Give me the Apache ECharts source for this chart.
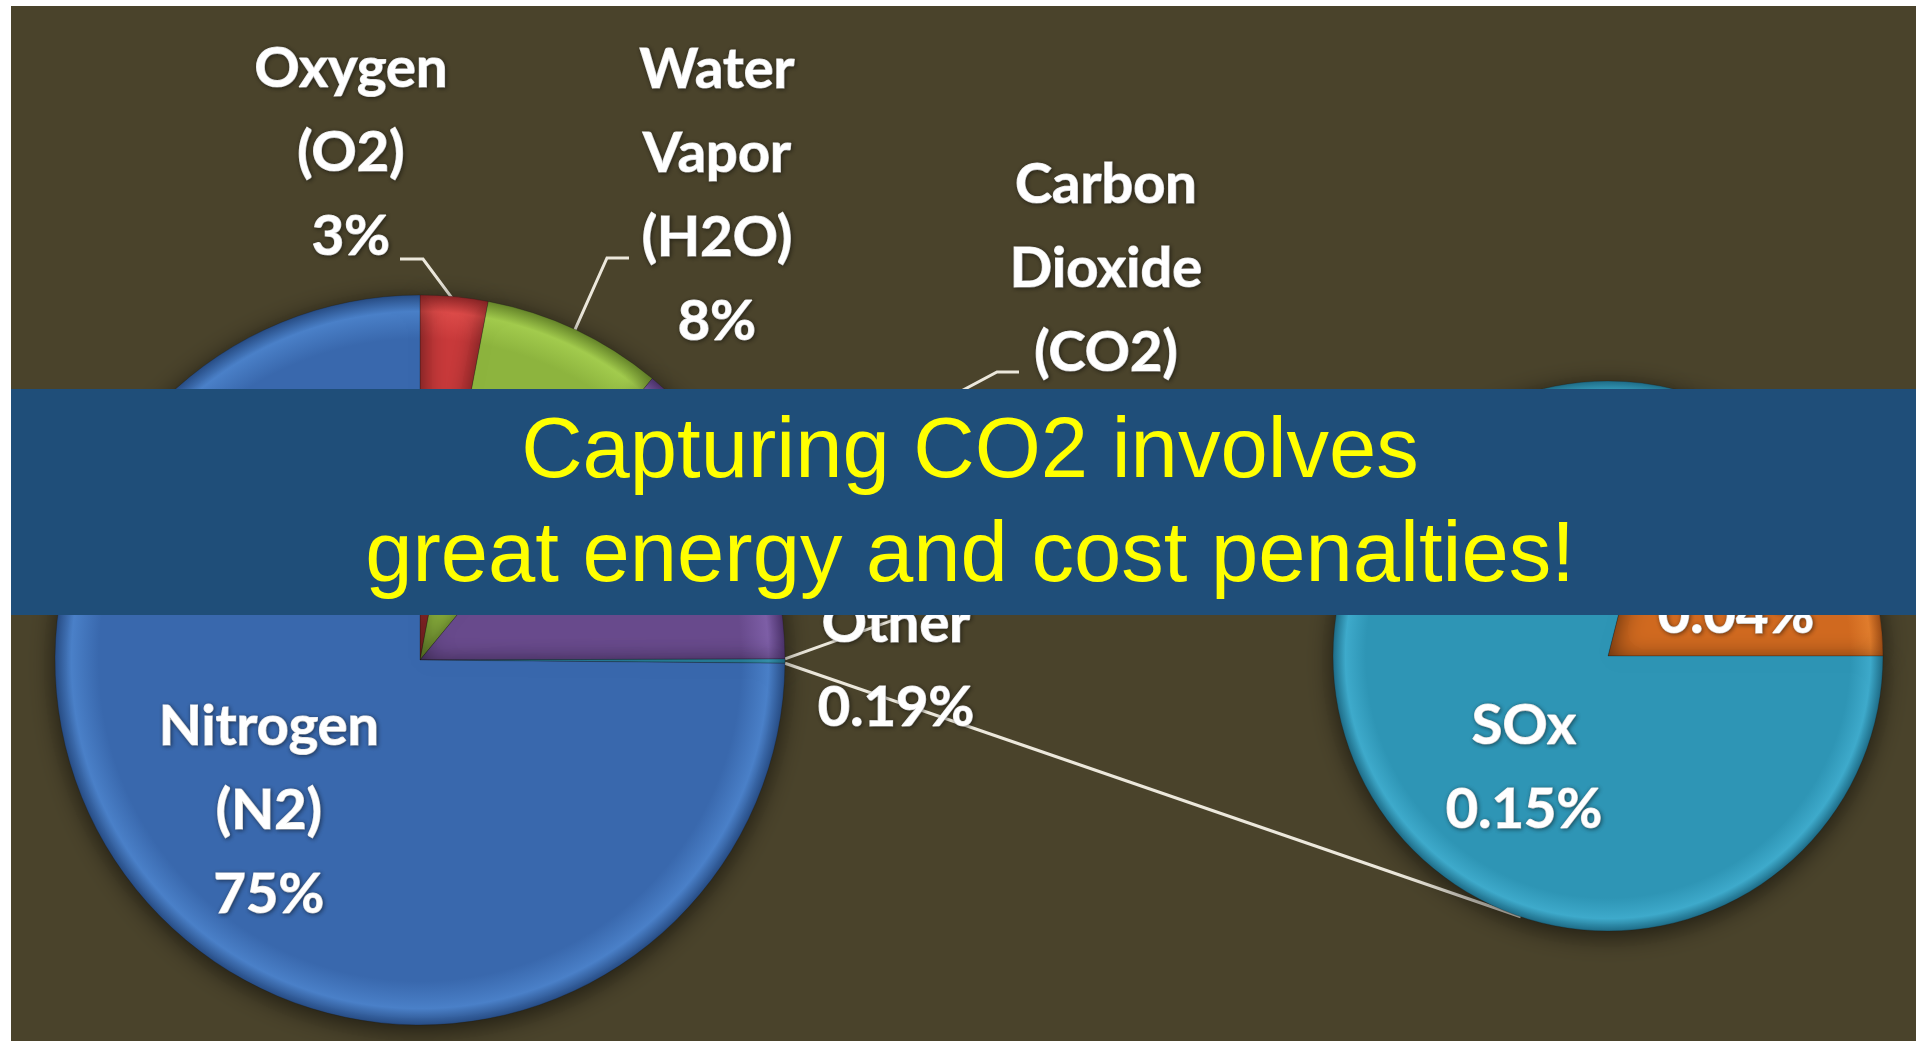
<!DOCTYPE html>
<html>
<head>
<meta charset="utf-8">
<title>Flue gas composition</title>
<script src="https://cdn.jsdelivr.net/npm/echarts@6/dist/echarts.min.js"></script>
<style>
  html, body { margin: 0; padding: 0; background: #ffffff; }
  #chart { width: 1916px; height: 1041px; }
</style>
</head>
<body>
<div id="chart"></div>
<script>
// Main pie: flue gas components (percent), drawn clockwise from 12 o'clock
const mainNames  = ['Oxygen\n(O2)', 'Water\nVapor\n(H2O)', 'Carbon\nDioxide\n(CO2)', 'Other', 'Nitrogen\n(N2)'];
const mainValues = [3, 8, 14, 0.19, 75];

// Secondary pie: break-down of "Other" (percent of total gas)
const otherNames  = ['NOx', 'SOx'];
const otherValues = [0.04, 0.15];

const bannerLines = ['Capturing CO2 involves', 'great energy and cost penalties!'];

// ---- layout ----
const MAIN = { cx: 420, cy: 660, r: 365, start: 90 };
const SUB  = { cx: 1608, cy: 656, r: 275 };
SUB.start = otherValues[0] / otherValues.reduce((a, b) => a + b, 0) * 360;

// [base, rim highlight, outer edge]
const shades = [
  ['#c8393a', '#dc4a48', '#8e2627'],   // oxygen
  ['#8db43e', '#a2cb4d', '#66852a'],   // water vapor
  ['#684a8c', '#7d5ea6', '#4b326a'],   // carbon dioxide
  ['#2f96b6', '#40abcb', '#1f6d88'],   // other
  ['#3968ad', '#4a80c8', '#284d85']    // nitrogen
];
const subShades = [
  ['#d0691f', '#e07c2c', '#9c4c15'],   // NOx
  ['#2e95b5', '#3eaacb', '#1f6d88']    // SOx
];

// label block centres and leader-line bends
const mainLabelPos = [
  { x: 351, y: 153, line: [[423, 259], [400, 259]] },
  { x: 717, y: 196, line: [[607, 258], [629, 258]] },
  { x: 1106, y: 311, line: [[997, 372], [1019, 372]] },
  { x: 896, y: 666 },
  { x: 269, y: 811 }
];
const subLabelPos = [
  { x: 1736, y: 573 },
  { x: 1524, y: 768 }
];

function radial(g, c) {
  return {
    type: 'radial', x: g.cx, y: g.cy, r: g.r, global: true,
    colorStops: [
      { offset: 0, color: c[0] },
      { offset: 0.88, color: c[0] },
      { offset: 0.955, color: c[1] },
      { offset: 1, color: c[2] }
    ]
  };
}

// angle (deg, counter-clockwise from 3 o'clock) of slice edges, clockwise layout
function sliceAngles(values, start) {
  const total = values.reduce((a, b) => a + b, 0);
  let acc = start;
  return values.map(v => {
    const s = acc;
    acc -= v / total * 360;
    return [s, acc];
  });
}
function rim(g, deg, rr) {
  const a = deg * Math.PI / 180;
  const r = rr == null ? g.r : rr;
  return [g.cx + r * Math.cos(a), g.cy - r * Math.sin(a)];
}

const mainAngles = sliceAngles(mainValues, MAIN.start);
const otherIdx = mainNames.indexOf('Other');
const otherEdge = mainAngles[otherIdx];

// connector lines from the "Other" slice to the secondary pie
const connectTop = [rim(MAIN, otherEdge[0]), rim(SUB, 108.5)];
const connectBottom = [rim(MAIN, otherEdge[1]), rim(SUB, 251.5)];

const labelFont = {
  color: '#ffffff',
  fontFamily: 'Lato, "Open Sans", sans-serif',
  fontWeight: 'bold',
  fontSize: 56,
  lineHeight: 84,
  textBorderColor: '#ffffff',
  textBorderWidth: 1.2,
  textShadowColor: 'rgba(0,0,0,0.45)',
  textShadowBlur: 4,
  textShadowOffsetX: 1,
  textShadowOffsetY: 1
};

function fmt(p) { return p.name + '\n' + p.value + '%'; }

const pieStyle = {
  shadowBlur: 26,
  shadowColor: 'rgba(0,0,0,0.6)',
  shadowOffsetY: 5,
  borderColor: 'rgba(20,20,20,0.25)',
  borderWidth: 1
};

const chart = echarts.init(document.getElementById('chart'), null, { renderer: 'canvas' });

chart.setOption({
  backgroundColor: '#ffffff',
  animation: false,
  graphic: [
    { type: 'rect', z: 0, shape: { x: 11, y: 6, width: 1905, height: 1035 }, style: { fill: '#4a432b' } },
    { type: 'line', z: 1, shape: { x1: connectTop[0][0], y1: connectTop[0][1], x2: connectTop[1][0], y2: connectTop[1][1] },
      style: { stroke: '#ece8dc', lineWidth: 3 } },
    { type: 'line', z: 1, shape: { x1: connectBottom[0][0], y1: connectBottom[0][1], x2: connectBottom[1][0], y2: connectBottom[1][1] },
      style: { stroke: '#ece8dc', lineWidth: 3 } },
    { type: 'rect', z: 20, shape: { x: 11, y: 389, width: 1905, height: 226 }, style: { fill: '#1f4e79' } },
    { type: 'text', z: 21, style: { text: bannerLines[0], x: 970, y: 454, fill: '#ffff00',
        font: '85px "Liberation Sans", Arial, sans-serif', align: 'center', verticalAlign: 'middle',
        textAlign: 'center', textVerticalAlign: 'middle' } },
    { type: 'text', z: 21, style: { text: bannerLines[1], x: 970, y: 558, fill: '#ffff00',
        font: '85px "Liberation Sans", Arial, sans-serif', align: 'center', verticalAlign: 'middle',
        textAlign: 'center', textVerticalAlign: 'middle' } }
  ],
  series: [
    {
      type: 'pie',
      z: 2,
      silent: true,
      center: [MAIN.cx, MAIN.cy],
      radius: MAIN.r,
      startAngle: MAIN.start,
      clockwise: true,
      avoidLabelOverlap: false,
      itemStyle: pieStyle,
      label: Object.assign({ show: true, formatter: fmt }, labelFont),
      labelLine: { show: true, lineStyle: { color: '#ece8dc', width: 3 } },
      labelLayout: function (p) {
        const pos = mainLabelPos[p.dataIndex];
        const out = { x: pos.x, y: pos.y, align: 'center', verticalAlign: 'middle' };
        if (pos.line) {
          const a = mainAngles[p.dataIndex];
          out.labelLinePoints = [rim(MAIN, (a[0] + a[1]) / 2, MAIN.r - 4), pos.line[0], pos.line[1]];
        }
        return out;
      },
      data: mainNames.map((n, i) => ({
        name: n,
        value: mainValues[i],
        itemStyle: { color: radial(MAIN, shades[i]) },
        labelLine: { show: !!mainLabelPos[i].line }
      }))
    },
    {
      type: 'pie',
      z: 2,
      silent: true,
      center: [SUB.cx, SUB.cy],
      radius: SUB.r,
      startAngle: SUB.start,
      clockwise: true,
      avoidLabelOverlap: false,
      itemStyle: pieStyle,
      label: Object.assign({ show: true, formatter: fmt }, labelFont),
      labelLine: { show: false },
      labelLayout: function (p) {
        const pos = subLabelPos[p.dataIndex];
        return { x: pos.x, y: pos.y, align: 'center', verticalAlign: 'middle' };
      },
      data: otherNames.map((n, i) => ({
        name: n,
        value: otherValues[i],
        itemStyle: { color: radial(SUB, subShades[i]) }
      }))
    }
  ]
});
</script>
</body>
</html>
